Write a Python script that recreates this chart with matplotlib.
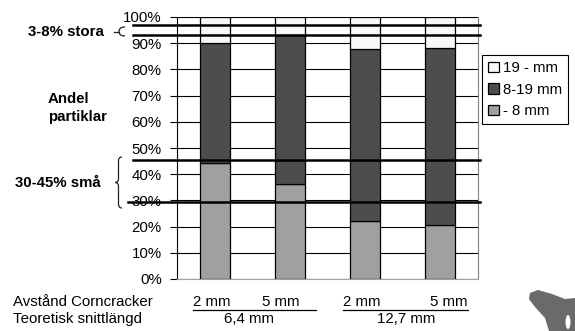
import numpy as np
import matplotlib
matplotlib.use('Agg')
import matplotlib.pyplot as plt
from matplotlib.path import Path
import matplotlib.patches as patches

plt.rcParams['font.family'] = ['Liberation Sans', 'DejaVu Sans']
plt.rcParams['font.size'] = 10.8

# andel partiklar (%) per prov
groups = ['2 mm', '5 mm', '2 mm', '5 mm']
small = [44.4, 36.1, 22.0, 20.5]      # - 8 mm
mid = [45.8, 57.0, 65.8, 67.7]        # 8-19 mm
large = [9.8, 6.9, 12.2, 11.8]        # 19 - mm
series_names = ['19 - mm', '8-19 mm', '- 8 mm']
colors = ['#f8f8f8', '#4d4d4d', '#a0a0a0']
ref_levels = [97.0, 93.3, 45.4, 29.3]   # tjocka linjer
ref_start = [-0.146, -0.146, -0.146, -0.163]
yticks = list(range(0, 101, 10))
snitt = ['6,4 mm', '12,7 mm']

W, H = 575, 331
fig = plt.figure(figsize=(W / 100, H / 100), dpi=100)
ax = fig.add_axes([177 / W, 52 / H, 301 / W, 262 / H])

x = np.arange(len(groups))
ax.bar(x, small, 0.4, color=colors[2], edgecolor='black', lw=0.9, zorder=3, label=series_names[2])
ax.bar(x, mid, 0.4, bottom=small, color=colors[1], edgecolor='black', lw=0.9, zorder=3, label=series_names[1])
ax.bar(x, large, 0.4, bottom=np.array(small) + np.array(mid), color=colors[0],
       edgecolor='black', lw=0.9, zorder=3, label=series_names[0])

ax.set_xlim(-0.5, 3.5)
ax.set_ylim(0, 100)
ax.set_yticks(yticks)
ax.set_yticklabels([f'{v}%' for v in yticks])
ax.set_xticks([])
ax.tick_params(axis='y', length=5, width=0.8, pad=6, direction='out')
ax.yaxis.grid(True, color='black', lw=0.8)
ax.set_axisbelow(True)
ax.spines['top'].set_visible(False)
ax.spines['right'].set_color('#808080')
ax.spines['bottom'].set_color('#a0a0a0')
ax.spines['left'].set_linewidth(0.8)

tr = ax.get_yaxis_transform()
for lvl, x0 in zip(ref_levels, ref_start):
    ax.plot([x0, 1.005], [lvl, lvl], color='black', lw=1.8, transform=tr, clip_on=False, zorder=6)

h, l = ax.get_legend_handles_labels()
leg = fig.legend(h[::-1], l[::-1], loc='upper left', bbox_to_anchor=(482 / W, 1 - 55 / H),
                 fancybox=False, edgecolor='black', framealpha=1, handlelength=0.7,
                 handleheight=0.7, handletextpad=0.3, labelspacing=0.5, borderpad=0.4,
                 borderaxespad=0)
leg.get_frame().set_linewidth(0.8)

# overlay in pixel coordinates for annotations
ov = fig.add_axes([0, 0, 1, 1])
ov.set_xlim(0, W)
ov.set_ylim(H, 0)
ov.axis('off')
ov.patch.set_visible(False)


def brace(x_left, x_right, y0, y1, lw=0.9):
    ym = (y0 + y1) / 2
    xm = (x_left + x_right) / 2
    r = min(4, (y1 - y0) / 4)
    verts = [(x_right, y0), (xm, y0), (xm, y0 + r),
             (xm, ym - r), (xm, ym), (x_left, ym),
             (xm, ym), (xm, ym + r),
             (xm, y1 - r), (xm, y1), (x_right, y1)]
    codes = [Path.MOVETO, Path.CURVE3, Path.CURVE3,
             Path.LINETO, Path.CURVE3, Path.CURVE3,
             Path.CURVE3, Path.CURVE3,
             Path.LINETO, Path.CURVE3, Path.CURVE3]
    ov.add_patch(patches.PathPatch(Path(verts, codes), fill=False, lw=lw, color='#222222'))


brace(115, 122, 157, 208)
# small bracket for 3-8%
ov.plot([114, 119], [31.5, 31.5], color='#222222', lw=0.9)
ov.add_patch(patches.PathPatch(Path([(125, 27), (119, 27), (119, 31.5), (119, 36), (125, 36)],
                                    [Path.MOVETO, Path.CURVE3, Path.CURVE3, Path.CURVE3, Path.CURVE3]),
                               fill=False, lw=0.9, color='#222222'))

ov.text(66, 31.5, '3-8% stora', ha='center', va='center', fontweight='bold')
ov.text(48, 99, 'Andel', ha='left', va='center', fontweight='bold')
ov.text(48, 117, 'partiklar', ha='left', va='center', fontweight='bold')
ov.text(58, 183, '30-45% små', ha='center', va='center', fontweight='bold')

ov.text(13, 302, 'Avstånd Corncracker', ha='left', va='center')
ov.text(13, 319, 'Teoretisk snittlängd', ha='left', va='center')
for xc, g in zip([212, 281, 362, 449], groups):
    ov.text(xc, 302, g, ha='center', va='center')
ov.plot([193, 316], [309.5, 309.5], color='black', lw=0.9)
ov.plot([343, 468], [309.5, 309.5], color='black', lw=0.9)
for xc, s in zip([249, 406], snitt):
    ov.text(xc, 319, s, ha='center', va='center')

# logo corner
logo = [(530, 293), (538, 290), (552, 294), (565, 299), (575, 298), (575, 331),
        (549, 331), (545, 318), (535, 307), (529, 299)]
ov.add_patch(patches.Polygon(logo, closed=True, color='#6a6a6a', lw=0))
ov.add_patch(patches.Ellipse((568, 322), 5, 14, color='white', lw=0))

fig.savefig('out.png', dpi=100)
